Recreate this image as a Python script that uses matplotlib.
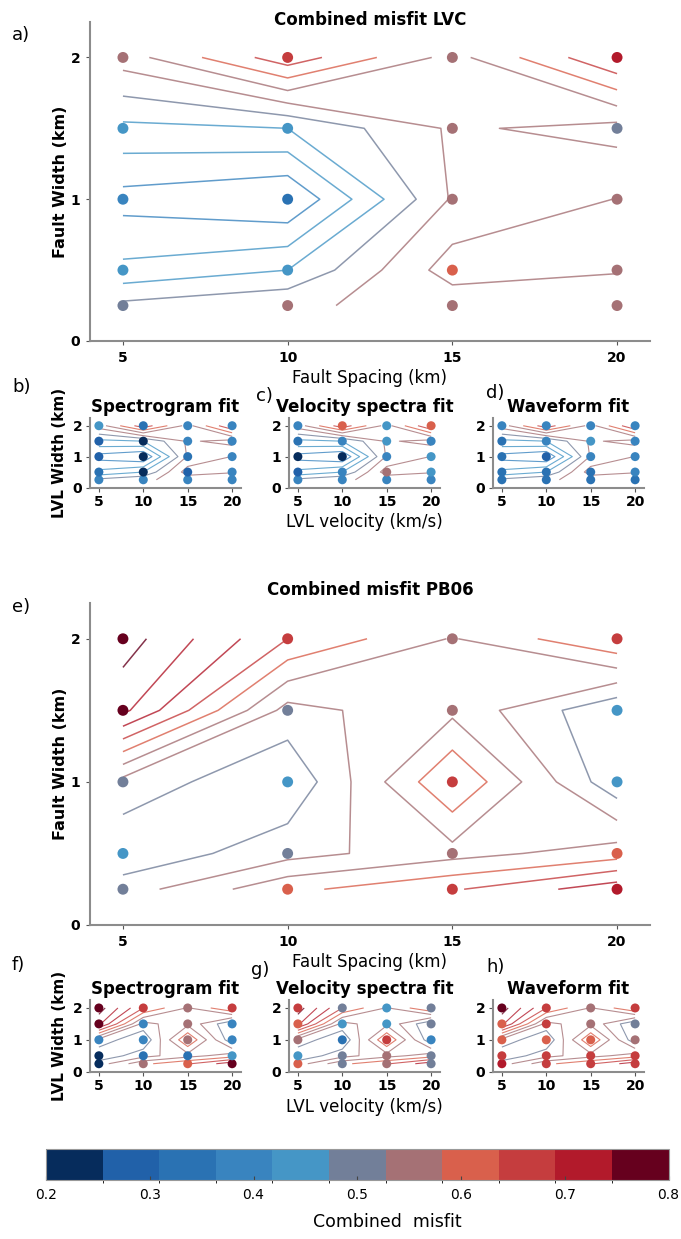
import numpy as np
import matplotlib
matplotlib.use('Agg')
import matplotlib.pyplot as plt
from matplotlib.colors import ListedColormap, BoundaryNorm
from matplotlib.cm import ScalarMappable

plt.rcParams['font.family'] = ['DejaVu Sans']

#%% data: misfit at each model, rows = width (0.25 .. 2 km), cols = spacing/velocity (5 .. 20)
spacing = [5, 10, 15, 20]
width = [0.25, 0.5, 1, 1.5, 2]

lvc_combined = [[0.51, 0.535, 0.552, 0.571],
                [0.43, 0.46, 0.60, 0.581],
                [0.365, 0.34, 0.545, 0.581],
                [0.45, 0.46, 0.546, 0.525],
                [0.56, 0.685, 0.565, 0.70]]
lvc_spectrogram = [[0.38, 0.38, 0.38, 0.40],
                   [0.34, 0.25, 0.30, 0.40],
                   [0.30, 0.22, 0.34, 0.38],
                   [0.30, 0.24, 0.38, 0.38],
                   [0.44, 0.33, 0.40, 0.40]]
lvc_velspec = [[0.38, 0.38, 0.40, 0.40],
               [0.28, 0.40, 0.56, 0.42],
               [0.24, 0.23, 0.38, 0.44],
               [0.34, 0.38, 0.44, 0.40],
               [0.38, 0.60, 0.44, 0.61]]
lvc_waveform = [[0.35, 0.35, 0.35, 0.35],
                [0.34, 0.35, 0.35, 0.38],
                [0.33, 0.30, 0.38, 0.40],
                [0.35, 0.38, 0.42, 0.40],
                [0.40, 0.39, 0.40, 0.40]]

pb06_combined = [[0.52, 0.61, 0.655, 0.725],
                 [0.47, 0.525, 0.565, 0.60],
                 [0.525, 0.465, 0.66, 0.47],
                 [0.75, 0.525, 0.57, 0.465],
                 [0.80, 0.66, 0.577, 0.66]]
pb06_spectrogram = [[0.23, 0.55, 0.61, 0.77],
                    [0.23, 0.34, 0.34, 0.44],
                    [0.40, 0.38, 0.56, 0.40],
                    [0.77, 0.41, 0.56, 0.41],
                    [0.78, 0.67, 0.55, 0.66]]
pb06_velspec = [[0.61, 0.50, 0.55, 0.50],
                [0.44, 0.50, 0.55, 0.50],
                [0.56, 0.36, 0.66, 0.40],
                [0.61, 0.44, 0.44, 0.50],
                [0.66, 0.50, 0.45, 0.50]]
pb06_waveform = [[0.70, 0.66, 0.66, 0.66],
                 [0.66, 0.66, 0.66, 0.66],
                 [0.61, 0.61, 0.61, 0.56],
                 [0.61, 0.65, 0.56, 0.50],
                 [0.77, 0.66, 0.55, 0.66]]

#%% colours
colors = ['#062c5c', '#2161a9', '#2a72b3', '#3984bf', '#4596c6', '#727f99',
          '#a57175', '#d9604c', '#c53d3e', '#b21a2b', '#66001e']
cmap = ListedColormap(colors)
norm = BoundaryNorm(np.linspace(0.2, 0.8, 12), cmap.N)
levels = [0.30, 0.34, 0.38, 0.42, 0.46, 0.50, 0.54, 0.58, 0.62, 0.66, 0.70, 0.74, 0.78]

W, H = 681, 1239
fig = plt.figure(figsize=(W / 100, H / 100), dpi=100)


def px_axes(left, top, right, bottom):
    return fig.add_axes([left / W, 1 - bottom / H, (right - left) / W, (bottom - top) / H])


def misfit_panel(ax, combined, points, big):
    X, Y = np.meshgrid(spacing, width)
    ax.contour(spacing, width, np.array(combined), levels=levels, cmap=cmap, norm=norm,
               linewidths=1.1 if big else 0.8, alpha=0.8)
    ax.scatter(X.ravel(), Y.ravel(), c=np.array(points).ravel(), cmap=cmap, norm=norm,
               s=62 if big else 42, edgecolors='none', zorder=3, clip_on=False)
    ax.set_xlim(4, 21)
    ax.set_ylim(0, 2.25)
    ax.set_xticks(spacing)
    ax.set_yticks([0, 1, 2])
    for side in ['top', 'right']:
        ax.spines[side].set_visible(False)
    for side in ['left', 'bottom']:
        ax.spines[side].set_color('#8c8c8c')
        ax.spines[side].set_linewidth(1.5)
    ax.tick_params(length=3, width=0.8, color='#555555', labelsize=10, pad=4 if big else 2.5)
    for lab in ax.get_xticklabels() + ax.get_yticklabels():
        lab.set_fontweight('bold')


# big panels
ax_a = px_axes(90, 22, 650, 341)
misfit_panel(ax_a, lvc_combined, lvc_combined, True)
ax_a.set_title('Combined misfit LVC', fontsize=12, fontweight='bold', y=0.99, pad=0)
ax_a.set_ylabel('Fault Width (km)', fontsize=11.5, fontweight='bold', labelpad=2)
ax_a.set_xlabel('Fault Spacing (km)', fontsize=12, labelpad=3)

ax_e = px_axes(90, 603, 650, 925)
misfit_panel(ax_e, pb06_combined, pb06_combined, True)
ax_e.set_title('Combined misfit PB06', fontsize=12, fontweight='bold', pad=6)
ax_e.set_ylabel('Fault Width (km)', fontsize=11.5, fontweight='bold', labelpad=2)
ax_e.set_xlabel('Fault Spacing (km)', fontsize=12, labelpad=3)

# small panels
titles = ['Spectrogram fit', 'Velocity spectra fit', 'Waveform fit']
lefts = [90, 289, 493]
row1 = [lvc_spectrogram, lvc_velspec, lvc_waveform]
row2 = [pb06_spectrogram, pb06_velspec, pb06_waveform]
small_axes = []
for i in range(3):
    ax = px_axes(lefts[i], 418, lefts[i] + 151, 487.5)
    misfit_panel(ax, lvc_combined, row1[i], False)
    ax.set_title(titles[i], fontsize=12, fontweight='bold', pad=4)
    small_axes.append(ax)
    ax = px_axes(lefts[i], 1000, lefts[i] + 151, 1071.7)
    misfit_panel(ax, pb06_combined, row2[i], False)
    ax.set_title(titles[i], fontsize=12, fontweight='bold', pad=4)
    small_axes.append(ax)

small_axes[0].set_ylabel('LVL Width (km)', fontsize=11, fontweight='bold', labelpad=4)
small_axes[1].set_ylabel('LVL Width (km)', fontsize=11, fontweight='bold', labelpad=4)
small_axes[2].set_xlabel('LVL velocity (km/s)', fontsize=12, labelpad=3)
small_axes[3].set_xlabel('LVL velocity (km/s)', fontsize=12, labelpad=3)

# panel letters
letters = [('a)', 12, 35), ('b)', 12, 387), ('c)', 256, 396), ('d)', 486, 393),
           ('e)', 12, 607), ('f)', 12, 965), ('g)', 251, 970), ('h)', 486, 967)]
for txt, x, y in letters:
    fig.text(x / W, 1 - y / H, txt, fontsize=13, va='center', ha='left')

# colorbar
cax = px_axes(46, 1149, 668.5, 1180)
cb = fig.colorbar(ScalarMappable(norm=norm, cmap=cmap), cax=cax, orientation='horizontal',
                  ticks=[0.2, 0.3, 0.4, 0.5, 0.6, 0.7, 0.8])
cb.ax.tick_params(direction='in', length=3, width=0.8, color='#444444', labelsize=10, pad=6)
cb.ax.set_xticklabels(['0.2', '0.3', '0.4', '0.5', '0.6', '0.7', '0.8'])
cb.outline.set_edgecolor('#999999')
cb.outline.set_linewidth(0.8)
fig.text(387 / W, 1 - 1222 / H, 'Combined  misfit', fontsize=12.5, ha='center', va='center')

fig.savefig('out.png', dpi=100)
